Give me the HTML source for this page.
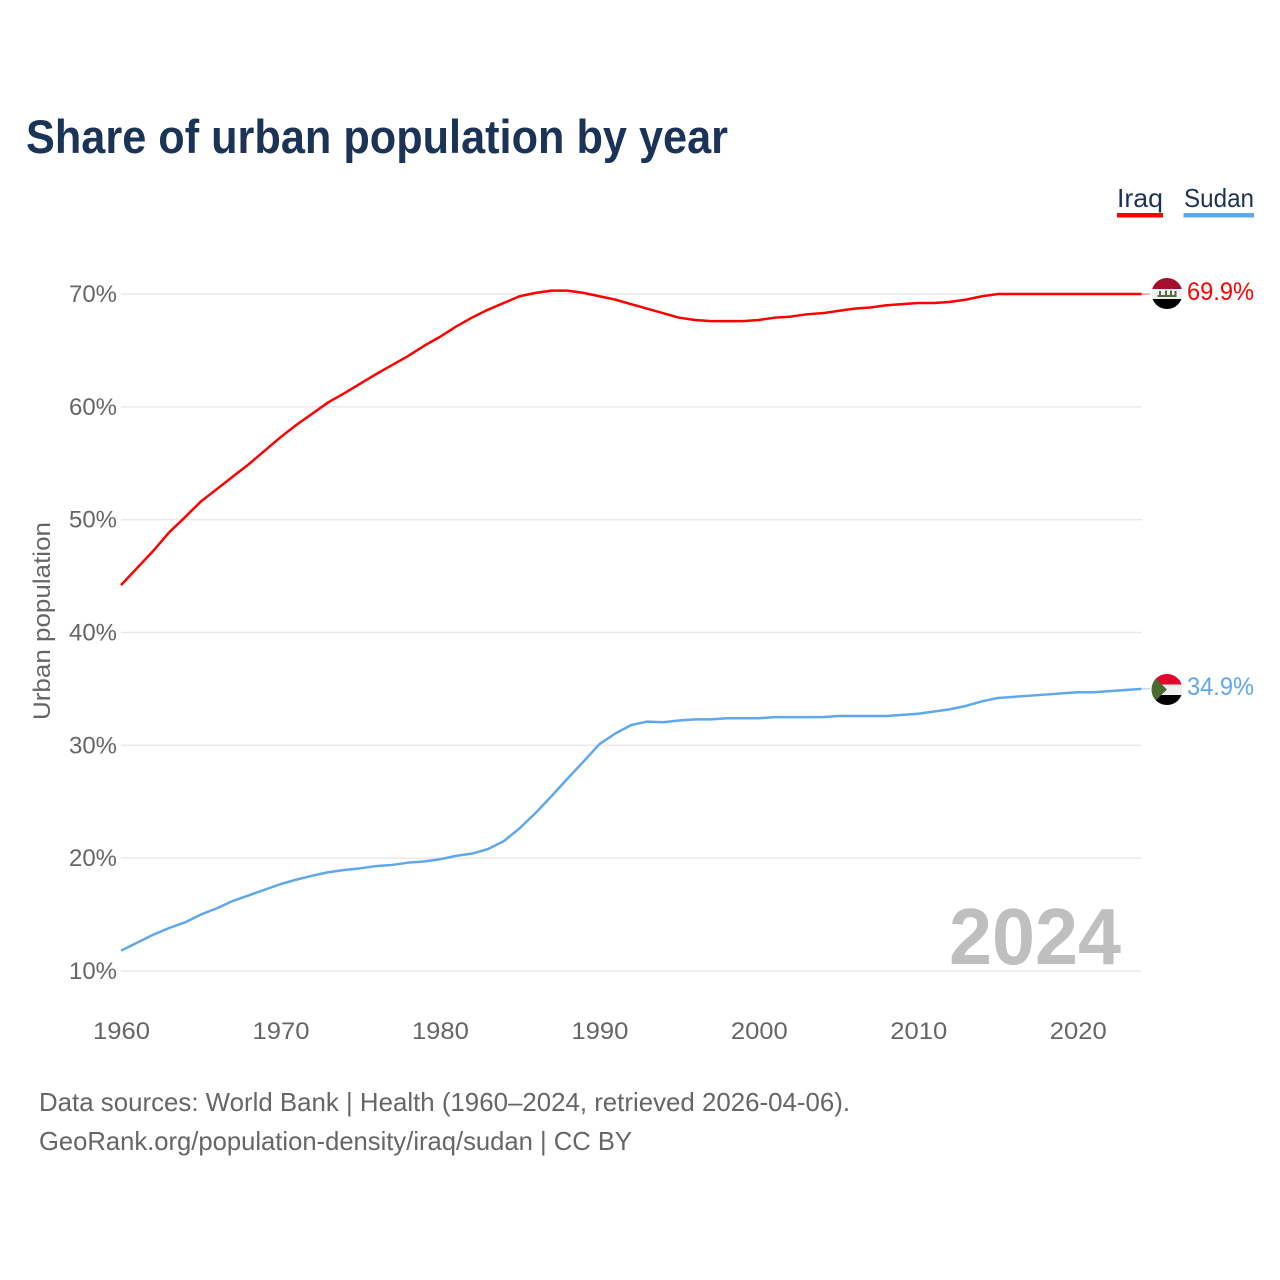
<!DOCTYPE html>
<html lang="en">
<head>
<meta charset="utf-8">
<title>Share of urban population by year</title>
<style>
html,body{margin:0;padding:0;background:#fff;}
svg{display:block;}
text{font-family:"Liberation Sans",sans-serif;}
</style>
</head>
<body>
<svg id="chart" xmlns="http://www.w3.org/2000/svg" width="1280" height="1280" viewBox="0 0 1280 1280">
  <defs>
    <clipPath id="flag-clip-iraq"><circle cx="1167" cy="293.500" r="15.500"/></clipPath>
    <clipPath id="flag-clip-sudan"><circle cx="1167" cy="689.500" r="15.500"/></clipPath>
  </defs>
  <rect width="1280" height="1280" fill="#fff"/>
  <text x="26" y="153" font-size="47" font-weight="700" fill="#1a3357" textLength="702" lengthAdjust="spacingAndGlyphs">Share of urban population by year</text>

  <g>
    <text x="1117" y="207" font-size="26" fill="#1a3357" textLength="46" lengthAdjust="spacingAndGlyphs">Iraq</text>
    <rect x="1117" y="213" width="46" height="4.5" fill="#ff0000"/>
  </g>
  <g>
    <text x="1184" y="207" font-size="26" fill="#1a3357" textLength="70" lengthAdjust="spacingAndGlyphs">Sudan</text>
    <rect x="1183.500" y="213" width="70.500" height="4.5" fill="#5fa8ee"/>
  </g>

  <g id="grid"></g>
  <g id="y-ticks"></g>
  <g id="x-ticks"></g>

  <text transform="translate(50,621) rotate(-90)" text-anchor="middle" font-size="24" fill="#666" textLength="198" lengthAdjust="spacingAndGlyphs">Urban population</text>

  <text x="949" y="964" font-size="80" font-weight="700" fill="#bfbfbf" textLength="172" lengthAdjust="spacingAndGlyphs">2024</text>

  <g id="series"></g>

  <g clip-path="url(#flag-clip-iraq)">
    <rect x="1151" y="278" width="32" height="11" fill="#a50f2d"/>
    <rect x="1151" y="289" width="32" height="10" fill="#f0f0f0"/>
    <rect x="1151" y="299" width="32" height="11" fill="#000"/>
    <rect x="1157.500" y="295" width="19" height="2" fill="#4f7040"/>
    <rect x="1159" y="291" width="2" height="5" fill="#4f7040"/>
    <rect x="1165" y="290.500" width="2" height="5.500" fill="#4f7040"/>
    <rect x="1170" y="290.500" width="2" height="5.500" fill="#4f7040"/>
    <rect x="1174.500" y="291" width="2" height="5" fill="#4f7040"/>
  </g>
  <g clip-path="url(#flag-clip-sudan)">
    <rect x="1151" y="674" width="32" height="10.500" fill="#e2062c"/>
    <rect x="1151" y="684.500" width="32" height="10.500" fill="#f0f0f0"/>
    <rect x="1151" y="695" width="32" height="10.500" fill="#000"/>
    <polygon points="1151,674 1167,689.500 1151,705" fill="#4a6a2e"/>
  </g>

  <text x="1187" y="300" font-size="25" fill="#ff0000" textLength="67" lengthAdjust="spacingAndGlyphs">69.9%</text>
  <text x="1187" y="695" font-size="25" fill="#5fa8ee" textLength="67" lengthAdjust="spacingAndGlyphs">34.9%</text>

  <text x="39" y="1111" font-size="26" fill="#666" textLength="811" lengthAdjust="spacingAndGlyphs">Data sources: World Bank | Health (1960–2024, retrieved 2026-04-06).</text>
  <text x="39" y="1150" font-size="26" fill="#666" textLength="593" lengthAdjust="spacingAndGlyphs">GeoRank.org/population-density/iraq/sudan | CC BY</text>
</svg>
<script>
const startYear = 1960;
const endYear = 2024;
const yTickValues = [10, 20, 30, 40, 50, 60, 70];
const xTickYears = [1960, 1970, 1980, 1990, 2000, 2010, 2020];
const iraqValues = [
  44.2, 45.7, 47.2, 48.85, 50.2, 51.6, 52.7, 53.8, 54.9, 56.1,
  57.3, 58.4, 59.4, 60.4, 61.2, 62.05, 62.9, 63.7, 64.5, 65.4,
  66.2, 67.1, 67.9, 68.6, 69.2, 69.8, 70.1, 70.3, 70.3, 70.1,
  69.8, 69.5, 69.1, 68.7, 68.3, 67.9, 67.7, 67.6, 67.6, 67.6,
  67.7, 67.9, 68.0, 68.2, 68.3, 68.5, 68.7, 68.8, 69.0, 69.1,
  69.2, 69.2, 69.3, 69.5, 69.8, 70.0, 70.0, 70.0, 70.0, 70.0,
  70.0, 70.0, 70.0, 70.0, 70.0
];
const sudanValues = [
  11.8, 12.5, 13.2, 13.8, 14.3, 15.0, 15.55, 16.2, 16.7, 17.2,
  17.7, 18.1, 18.45, 18.75, 18.95, 19.1, 19.3, 19.4, 19.6, 19.7,
  19.9, 20.2, 20.4, 20.8, 21.5, 22.65, 24.0, 25.5, 27.05, 28.55,
  30.1, 31.05, 31.8, 32.1, 32.05, 32.2, 32.3, 32.3, 32.4, 32.4,
  32.4, 32.5, 32.5, 32.5, 32.5, 32.6, 32.6, 32.6, 32.6, 32.7,
  32.8, 33.0, 33.2, 33.5, 33.9, 34.2, 34.3, 34.4, 34.5, 34.6,
  34.7, 34.7, 34.8, 34.9, 35.0
];

const SVG_NS = 'http://www.w3.org/2000/svg';
const plotLeft = 121;
const plotRight = 1141.5;
function xScale(year) {
  return plotLeft + (year - startYear) * (plotRight - plotLeft) / (endYear - startYear);
}
function yScale(value) {
  return 971 - (value - 10) * (971 - 294) / 60;
}
function linePath(values) {
  return values.map(function (v, i) {
    return (i ? 'L' : 'M') + xScale(startYear + i).toFixed(2) + ' ' + yScale(v).toFixed(2);
  }).join(' ');
}

const gridGroup = document.getElementById('grid');
const yTickGroup = document.getElementById('y-ticks');
const xTickGroup = document.getElementById('x-ticks');
const seriesGroup = document.getElementById('series');

yTickValues.forEach(function (v) {
  const gridLine = document.createElementNS(SVG_NS, 'line');
  
  
  gridLine.setAttribute('x1', plotLeft);
  gridLine.setAttribute('x2', plotRight);
  gridLine.setAttribute('y1', yScale(v));
  gridLine.setAttribute('y2', yScale(v));
  gridLine.setAttribute('stroke', '#e9e9e9');
  gridLine.setAttribute('stroke-width', '1.5');
  gridGroup.appendChild(gridLine);

  const label = document.createElementNS(SVG_NS, 'text');
  
  
  label.setAttribute('x', 117);
  label.setAttribute('y', yScale(v) + 8);
  label.setAttribute('text-anchor', 'end');
  label.setAttribute('font-size', '24');
  label.setAttribute('fill', '#666');
  label.setAttribute('textLength', '48');
  label.setAttribute('lengthAdjust', 'spacingAndGlyphs');
  label.textContent = v + '%';
  yTickGroup.appendChild(label);
});

xTickYears.forEach(function (year) {
  const label = document.createElementNS(SVG_NS, 'text');
  
  
  label.setAttribute('x', xScale(year) + 0.5);
  label.setAttribute('y', 1039);
  label.setAttribute('text-anchor', 'middle');
  label.setAttribute('font-size', '24');
  label.setAttribute('fill', '#666');
  label.setAttribute('textLength', '57');
  label.setAttribute('lengthAdjust', 'spacingAndGlyphs');
  label.textContent = year;
  xTickGroup.appendChild(label);
});

const iraqLine = document.createElementNS(SVG_NS, 'path');


iraqLine.setAttribute('d', linePath(iraqValues));
iraqLine.setAttribute('fill', 'none');
iraqLine.setAttribute('stroke', '#ff0000');
iraqLine.setAttribute('stroke-width', '2.5');
iraqLine.setAttribute('stroke-linejoin', 'round');
seriesGroup.appendChild(iraqLine);

const sudanLine = document.createElementNS(SVG_NS, 'path');


sudanLine.setAttribute('d', linePath(sudanValues));
sudanLine.setAttribute('fill', 'none');
sudanLine.setAttribute('stroke', '#5fa8ee');
sudanLine.setAttribute('stroke-width', '2.5');
sudanLine.setAttribute('stroke-linejoin', 'round');
seriesGroup.appendChild(sudanLine);

const iraqConnector = document.createElementNS(SVG_NS, 'line');


iraqConnector.setAttribute('x1', xScale(endYear));
iraqConnector.setAttribute('x2', 1150);
iraqConnector.setAttribute('y1', yScale(iraqValues[iraqValues.length - 1]));
iraqConnector.setAttribute('y2', yScale(iraqValues[iraqValues.length - 1]));
iraqConnector.setAttribute('stroke', '#ff0000');
iraqConnector.setAttribute('stroke-opacity', '0.6');
iraqConnector.setAttribute('stroke-width', '1');
seriesGroup.appendChild(iraqConnector);

const sudanConnector = document.createElementNS(SVG_NS, 'line');


sudanConnector.setAttribute('x1', xScale(endYear));
sudanConnector.setAttribute('x2', 1150);
sudanConnector.setAttribute('y1', yScale(sudanValues[sudanValues.length - 1]));
sudanConnector.setAttribute('y2', yScale(sudanValues[sudanValues.length - 1]));
sudanConnector.setAttribute('stroke', '#5fa8ee');
sudanConnector.setAttribute('stroke-opacity', '0.6');
sudanConnector.setAttribute('stroke-width', '1');
seriesGroup.appendChild(sudanConnector);
</script>
</body>
</html>
